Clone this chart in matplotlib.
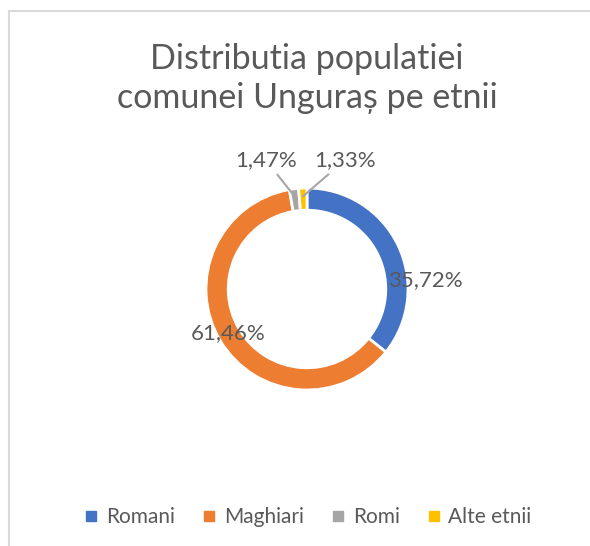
import matplotlib.pyplot as plt
from matplotlib.lines import Line2D
import numpy as np

# Data
ls_labels = ['Romani', 'Maghiari', 'Romi', 'Alte etnii']
na_values = np.array([35.72, 61.46, 1.47, 1.33])
ls_colors = ['#4472C4', '#ED7D31', '#A5A5A5', '#FFC000']
ls_texts = ['35,72%', '61,46%', '1,47%', '1,33%']

# Where each data label sits (in donut radius units)
ll_label_pos = [(1.17, 0.09), (-0.78, -0.44), (-0.41, 1.28), (0.38, 1.28)]
lb_leader = [False, False, True, True]

s_text_color = '#595959'
plt.rcParams['font.family'] = ['Lato', 'DejaVu Sans']

fig = plt.figure(figsize=(5.9, 5.46), dpi=100)

# Donut centre at (307, 289) px, radius 101 px
f_lim = 1.6
i_cx, i_cy, i_r = 307, 289, 101
f_w = 2 * f_lim * i_r
ax = fig.add_axes([(i_cx - f_w / 2) / 590, (546 - i_cy - f_w / 2) / 546,
                   f_w / 590, f_w / 546])
wedges, _ = ax.pie(na_values, colors=ls_colors, startangle=90,
                   counterclock=False, radius=1.0,
                   wedgeprops=dict(width=0.22, edgecolor='white',
                                   linewidth=2))
ax.set_xlim(-f_lim, f_lim)
ax.set_ylim(-f_lim, f_lim)
ax.set_aspect('equal')
ax.axis('off')

for w, s_txt, pos, b_lead in zip(wedges, ls_texts, ll_label_pos, lb_leader):
    if b_lead:
        f_ang = np.deg2rad((w.theta1 + w.theta2) / 2)
        xy = (0.92 * np.cos(f_ang), 0.92 * np.sin(f_ang))
        ax.annotate(s_txt, xy=xy, xytext=pos, ha='center', va='center',
                    fontsize=16, color=s_text_color,
                    arrowprops=dict(arrowstyle='-', color='#A6A6A6',
                                    lw=1.5, shrinkA=2, shrinkB=0))
    else:
        ax.text(pos[0], pos[1], s_txt, ha='center', va='center',
                fontsize=16, color=s_text_color)

fig.text(i_cx / 590, 1 - 78.5 / 546,
         'Distributia populatiei\ncomunei Unguraș pe etnii',
         ha='center', va='center', fontsize=24.5, color=s_text_color,
         linespacing=1.25)

handles = [Line2D([], [], marker='s', linestyle='', markersize=7,
                  color=c) for c in ls_colors]
fig.legend(handles, ls_labels, loc='center', ncol=4,
           bbox_to_anchor=(0.52, 1 - 517 / 546), frameon=False,
           fontsize=15, handletextpad=0.25, columnspacing=1.2,
           labelcolor=s_text_color, handlelength=0.9)

# Chart-area border (only left and top edges visible)
fig.add_artist(Line2D([8.5 / 590, 8.5 / 590], [0, 1 - 10.5 / 546],
                      color='#D9D9D9', lw=1.5))
fig.add_artist(Line2D([8.5 / 590, 1], [1 - 10.5 / 546, 1 - 10.5 / 546],
                      color='#D9D9D9', lw=1.5))

fig.savefig('out.png', dpi=100, facecolor='white')
